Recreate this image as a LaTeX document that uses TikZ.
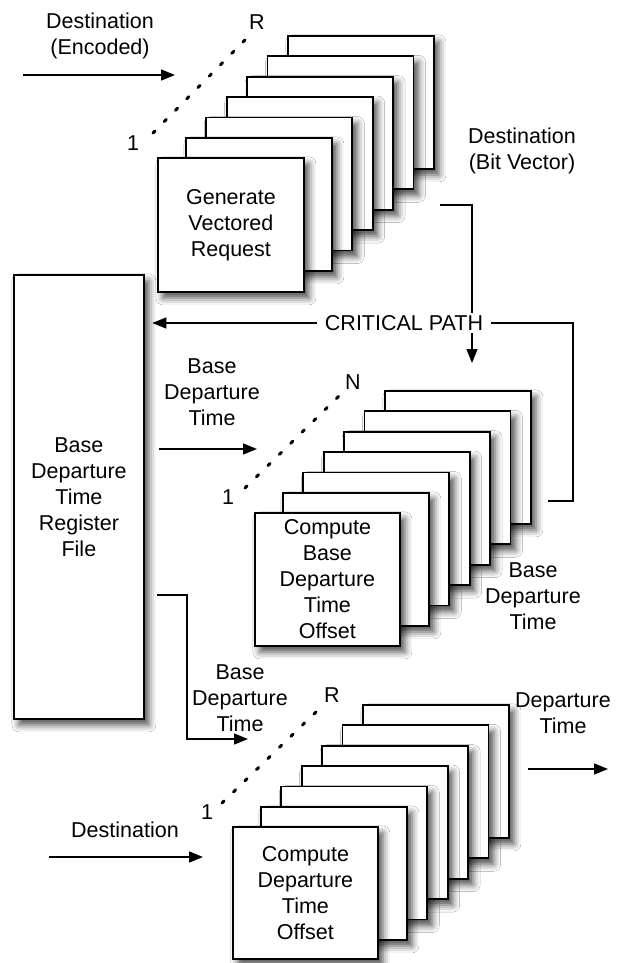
\documentclass[tikz,border=0pt]{standalone}
\usepackage{fontspec}
\setmainfont{Liberation Sans}
\usetikzlibrary{arrows.meta,shadows.blur}
\begin{document}
\begin{tikzpicture}[x=1pt,y=-1pt,
  every node/.style={font=\fontsize{21.5}{26}\selectfont},
  box/.style={draw, line width=1.8pt, fill=white, anchor=north west,
    minimum width=146pt, minimum height=133pt, inner sep=0pt, align=center,
    blur shadow={shadow xshift=5pt, shadow yshift=-6pt, shadow blur radius=7pt, shadow opacity=70}},
  conn/.style={line width=1.4pt},
  arr/.style={conn, -{Triangle[length=14pt,width=11pt]}},
  dots/.style={line width=3pt, dash pattern=on 3pt off 13pt, line cap=round},
  lbl/.style={align=center, inner sep=0pt}
]
\useasboundingbox (0,0) rectangle (621,963);
\fill[white] (0,0) rectangle (621,963);

% ---------- top stack ----------
\foreach \k in {6,5,...,1}
  \node[box] (gA\k) at ({185+20.4*(\k-1)},{137-20.4*(\k-1)}) {};
\node[box, minimum height=134pt] (gen) at (157,157) {Generate\\Vectored\\Request};

% ---------- middle stack ----------
\foreach \k in {6,5,...,1}
  \node[box] (cB\k) at ({282+20.4*(\k-1)},{492-20.4*(\k-1)}) {};
\node[box, minimum width=145pt] (cbase) at (254,512) {Compute\\Base\\Departure\\Time\\Offset};

% ---------- bottom stack ----------
\foreach \k in {6,5,...,1}
  \node[box] (cC\k) at ({260+20.4*(\k-1)},{806-20.4*(\k-1)}) {};
\node[box, minimum width=145pt, minimum height=132pt] (cdep) at (232,826) {Compute\\Departure\\Time\\Offset};

% ---------- register file ----------
\node[box, minimum width=130pt, minimum height=444pt] (reg) at (13,274) {Base\\Departure\\Time\\Register\\File};

% ---------- dotted index lines ----------
\coordinate (d1a) at (153,133); \coordinate (d1b) at (245,40);
\draw[dots] (d1a) -- (d1b);
\node[lbl] (one1) at (133,143) {1};
\node[lbl] (r1) at (257,22) {R};

\coordinate (d2a) at (245,488); \coordinate (d2b) at (340,395);
\draw[dots] (d2a) -- (d2b);
\node[lbl] (one2) at (228,497) {1};
\node[lbl] (n2) at (353,382) {N};

\coordinate (d3a) at (222,803); \coordinate (d3b) at (318,710);
\draw[dots] (d3a) -- (d3b);
\node[lbl] (one3) at (207,812) {1};
\node[lbl] (r3) at (332,695) {R};

% ---------- labels ----------
\node[lbl] (lenc) at (100,36) {Destination\\(Encoded)};
\node[lbl] (lbit) at (522,151) {Destination\\(Bit Vector)};
\node[lbl] (lbdt1) at (212,392) {Base\\Departure\\Time};
\node[lbl] (lbdt2) at (533,596) {Base\\Departure\\Time};
\node[lbl] (lbdt3) at (240,698) {Base\\Departure\\Time};
\node[lbl] (ldep) at (563,713) {Departure\\Time};
\node[lbl] (ldest) at (125,830) {Destination};

% ---------- connectors ----------
\coordinate (e1a) at (23,75); \coordinate (e1b) at (175,75);
\draw[arr] (e1a) -- (e1b);

\coordinate (bv0) at (440,205); \coordinate (bv1) at (472,363);
\draw[arr] (bv0) -| (bv1);

\coordinate (cp0) at (548,501); \coordinate (cp1) at (573,323);
\draw[arr, shorten >=7.5pt] (cp0) -| (cp1) -- (reg.east |- cp1);

\coordinate (b1a) at (159,449); \coordinate (b1b) at (257,449);
\draw[arr] (b1a) -- (b1b);

\coordinate (rb0) at (157,595); \coordinate (rb1) at (187,739); \coordinate (rb2) at (248,739);
\draw[arr] (rb0) -| (rb1) -- (rb2);

\coordinate (ds0) at (49,857); \coordinate (ds1) at (203,857);
\draw[arr] (ds0) -- (ds1);

\coordinate (o0) at (528,769); \coordinate (o1) at (608,769);
\draw[arr] (o0) -- (o1);

% ---------- critical path label on top ----------
\node[fill=white, inner xsep=8pt, inner ysep=2pt] (crit) at (404,323) {CRITICAL PATH};
\end{tikzpicture}
\end{document}
